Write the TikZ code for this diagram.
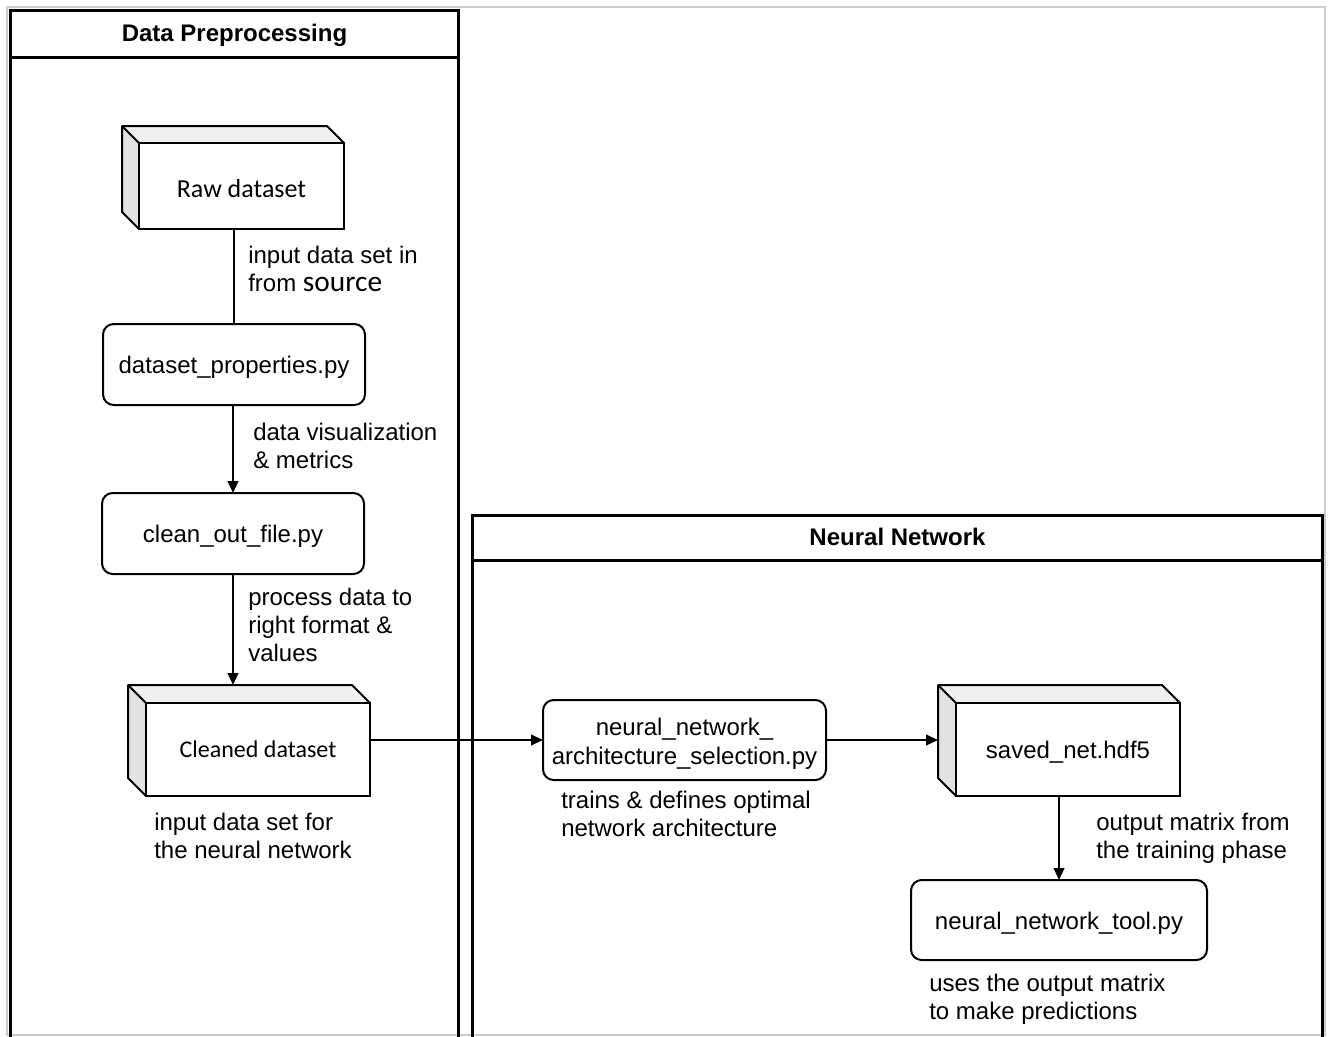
\documentclass[tikz,border=0pt]{standalone}
\usepackage{fontspec}
\setmainfont{Liberation Sans}
\newfontfamily\calibrifont{Carlito}
\usetikzlibrary{arrows.meta,calc}

\definecolor{cubetopfill}{HTML}{F0F0F0}
\definecolor{cubesidefill}{HTML}{E2E2E2}
\definecolor{framegray}{HTML}{CCCCCC}

\newcommand\notefont{\fontsize{18}{21}\selectfont}
\newcommand\titlefont{\bfseries\fontsize{18}{21}\selectfont}

% top and left faces of a box-shaped data store; #1 = front node, #2 = depth
\newcommand\boxfaces[2]{%
  \fill[cubetopfill] (#1.north west) -- ($(#1.north west)+(-#2,-#2)$)
    -- ($(#1.north east)+(-#2,-#2)$) -- (#1.north east) -- cycle;
  \fill[cubesidefill] (#1.north west) -- ($(#1.north west)+(-#2,-#2)$)
    -- ($(#1.south west)+(-#2,-#2)$) -- (#1.south west) -- cycle;
  \draw[cubeline] (#1.north east) -- ($(#1.north east)+(-#2,-#2)$)
    -- ($(#1.north west)+(-#2,-#2)$) -- ($(#1.south west)+(-#2,-#2)$)
    -- (#1.south west);
  \draw[cubeline] (#1.north west) -- ($(#1.north west)+(-#2,-#2)$);
  \draw[cubeline] (#1.north west) rectangle (#1.south east);
}

\begin{document}
\begin{tikzpicture}[x=0.75pt,y=-0.75pt,
  stepbox/.style={draw, rounded corners=8pt, line width=1.5pt, fill=white,
    align=center, font=\notefont, inner sep=0pt, outer sep=0pt},
  oneline/.style={text height=13.6pt, text depth=0pt},
  cubefront/.style={draw, line width=1.5pt, fill=white, align=center,
    inner sep=0pt, outer sep=0pt},
  cubeline/.style={line width=1.5pt, line join=round},
  note/.style={anchor=west, align=left, inner sep=0pt, font=\notefont,
    execute at begin node=\strut, execute at end node=\strut},
  pooltitle/.style={font=\titlefont, inner sep=0pt},
  pool/.style={line width=2.25pt},
  link/.style={line width=1.5pt},
  arr/.style={line width=1.5pt, -{Triangle[length=9pt,width=8pt]}},
]
\useasboundingbox (0,0) rectangle (1330,1036);
\clip (0,0) rectangle (1330,1036);
\fill[white] (0,0) rectangle (1330,1036);

% outer frame
\draw[framegray, line width=1.5pt] (6.5,6.5) -- (1325,6.5) -- (1325,1035) -- (6.5,1035) -- cycle;

% pools
\draw[pool] (10.5,1045) -- (10.5,10.5) -- (458.5,10.5) -- (458.5,1045);
\draw[pool] (10.5,57) -- (458.5,57);
\node[pooltitle] (dp-title) at (234.5,35.5) {Data Preprocessing};

\draw[pool] (472.5,1045) -- (472.5,515) -- (1322.5,515) -- (1322.5,1045);
\draw[pool] (472.5,560) -- (1322.5,560);
\node[pooltitle] (nn-title) at (897.5,537) {Neural Network};

% data preprocessing steps
\node[cubefront, minimum width=205*0.75pt, minimum height=86*0.75pt,
  font=\calibrifont\fontsize{19.5}{21}\selectfont,
  text height=16.6pt, text depth=0pt] (raw) at (241.5,186) {Raw dataset};
\boxfaces{raw}{17}

\node[stepbox, oneline, minimum width=262*0.75pt, minimum height=81*0.75pt] (props) at (234,364.5) {dataset\_properties.py};
\node[stepbox, oneline, minimum width=262*0.75pt, minimum height=81*0.75pt] (clean) at (233,533.5) {clean\_out\_file.py};

\node[cubefront, minimum width=224*0.75pt, minimum height=93*0.75pt,
  font=\calibrifont\fontsize{18}{21}\selectfont] (cleaned) at (258,749.5) {Cleaned dataset};
\boxfaces{cleaned}{18}
\coordinate (cleaned-top) at ($(cleaned.north west)+(0,-18)$);

% neural network steps
\node[stepbox, minimum width=283*0.75pt, minimum height=80*0.75pt,
  font=\fontsize{18}{21.75}\selectfont, text height=37pt, text depth=0pt] (arch) at (684.5,740) {neural\_network\_\\architecture\_selection.py};

\node[cubefront, minimum width=224*0.75pt, minimum height=93*0.75pt, font=\notefont,
  oneline] (saved) at (1068,749.5) {saved\_net.hdf5};
\boxfaces{saved}{18}
\coordinate (saved-side) at ($(saved.west)+(-18,0)$);

\node[stepbox, oneline, minimum width=296*0.75pt, minimum height=80*0.75pt] (tool) at (1059,920) {neural\_network\_tool.py};

% connectors
\draw[link] (raw.south -| props.north) -- (props.north);
\draw[arr] (props.south -| clean.north) -- (clean.north);
\draw[arr] (clean.south) -- (clean.south |- cleaned-top);
\draw[arr] (cleaned.east |- arch.west) -- (arch.west);
\draw[arr] (arch.east) -- (saved-side |- arch.east);
\draw[arr] (saved.south -| tool.north) -- (tool.north);

% annotations
\node[note] (n-raw) at (248,273) {input data set in\\from {\calibrifont\fontsize{22}{21}\selectfont source}};
\node[note] (n-props) at (253,450) {data visualization\\\& metrics};
\node[note] (n-clean) at (248,629) {process data to\\right format \&\\values};
\node[note] (n-cleaned) at (154,840) {input data set for\\the neural network};
\node[note] (n-arch) at (561,818) {trains \& defines optimal\\network architecture};
\node[note] (n-saved) at (1096,840) {output matrix from\\the training phase};
\node[note] (n-tool) at (929,1001) {uses the output matrix\\to make predictions};
\end{tikzpicture}
\end{document}
